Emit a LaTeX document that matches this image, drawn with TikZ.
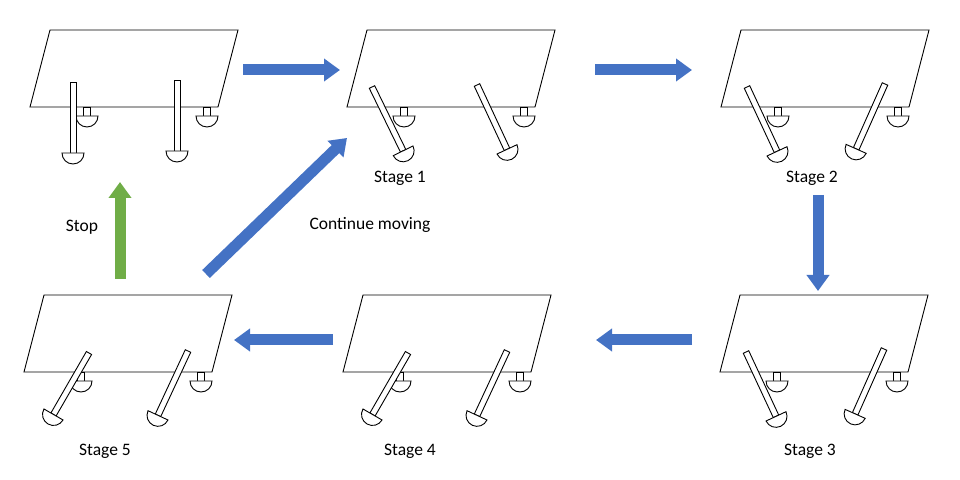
\documentclass[tikz,border=0pt]{standalone}
\usepackage{fontspec}
\setmainfont{Carlito}
\usetikzlibrary{arrows.meta}
\definecolor{flowblue}{RGB}{68,114,196}
\definecolor{flowgreen}{RGB}{112,173,71}
\tikzset{
  part/.style = {draw=black, fill=white, line width=0.9pt},
  flow/.style = {line width=11pt, -{Triangle[length=16pt,width=22pt]}, draw=flowblue},
  label/.style = {font=\fontsize{17.5}{20}\selectfont, inner sep=0pt}
}
% one table with its legs: bottom-left corner, then top and tilt of both front legs
\newcommand\walker[8]{
  \begin{scope}[shift={(#1,#2)}]
    \draw[part] (0,0) -- (20,77) -- (208,77) -- (188,0) -- cycle;
    \foreach \bx in {57,177} {
      \draw[part] (\bx-3.5,0) rectangle (\bx+3.5,-9);
      \draw[part] (\bx-11,-9) -- (\bx+11,-9) arc (0:-180:11) -- cycle;
    }
    \foreach \lx/\ly/\la in {#3/#4/#5,#6/#7/#8} {
      \begin{scope}[shift={(\lx,\ly)}, rotate=\la]
        \draw[part] (-3,0) rectangle (3,-71);
        \draw[part] (-11,-71) -- (11,-71) arc (0:-180:11) -- cycle;
      \end{scope}
    }
  \end{scope}
}
\begin{document}
\begin{tikzpicture}[x=1pt,y=1pt]
  \useasboundingbox (0,0) rectangle (960,479);
  \walker{30}{372}{43}{25}{0}{147}{27}{0}
  \walker{347}{372}{25}{20}{26}{130}{22}{25}
  \walker{721}{372}{26}{20}{25}{164}{23}{-24}
  \walker{720}{107}{26}{20}{25}{164}{23}{-24}
  \walker{343}{107}{65}{19}{-30}{164}{21}{-25}
  \walker{24}{107}{65}{19}{-30}{164}{21}{-25}
  % labels
  \node[label] (s1) at (400,301) {Stage 1};
  \node[label] (s2) at (812,301) {Stage 2};
  \node[label] (s3) at (810,28) {Stage 3};
  \node[label] (s4) at (410,28) {Stage 4};
  \node[label] (s5) at (105,28) {Stage 5};
  \node[label] (stop) at (82,252) {Stop};
  \node[label] (cont) at (370,254) {Continue moving};
  % arrow ends
  \coordinate (a0) at (243,409); \coordinate (b0) at (340,409);
  \coordinate (a1) at (595,409); \coordinate (b1) at (692,409);
  \coordinate (a2) at (818,284); \coordinate (b2) at (818,188);
  \coordinate (a3) at (692,139); \coordinate (b3) at (596,139);
  \coordinate (a4) at (333,139); \coordinate (b4) at (234,139);
  \coordinate (a5) at (120,200); \coordinate (b5) at (120,297);
  \coordinate (a6) at (206,205); \coordinate (b6) at (347,341);
  \draw[flow] (a0) -- (b0);
  \draw[flow] (a1) -- (b1);
  \draw[flow] (a2) -- (b2);
  \draw[flow] (a3) -- (b3);
  \draw[flow] (a4) -- (b4);
  \draw[flow, draw=flowgreen] (a5) -- (b5);
  \draw[flow] (a6) -- (b6);
\end{tikzpicture}
\end{document}
